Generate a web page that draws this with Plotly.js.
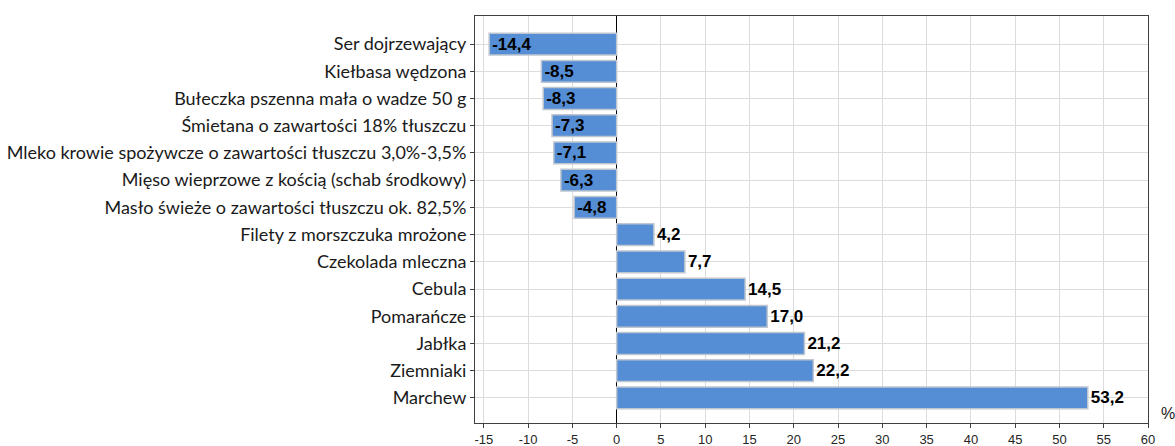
<!DOCTYPE html>
<html>
<head>
<meta charset="utf-8">
<script src="https://cdn.plot.ly/plotly-3.0.1.min.js"></script>
<style>html,body{margin:0;padding:0;background:#fff;}#chart{width:1175px;height:446px;}</style>
</head>
<body>
<div id="chart"></div>
<script>
const categories = [
  "Ser dojrzewający",
  "Kiełbasa wędzona",
  "Bułeczka pszenna mała o wadze 50 g",
  "Śmietana o zawartości 18% tłuszczu",
  "Mleko krowie spożywcze o zawartości tłuszczu 3,0%-3,5%",
  "Mięso wieprzowe z kością (schab środkowy)",
  "Masło świeże o zawartości tłuszczu ok. 82,5%",
  "Filety z morszczuka mrożone",
  "Czekolada mleczna",
  "Cebula",
  "Pomarańcze",
  "Jabłka",
  "Ziemniaki",
  "Marchew"
];
const values = [-14.4, -8.5, -8.3, -7.3, -7.1, -6.3, -4.8, 4.2, 7.7, 14.5, 17.0, 21.2, 22.2, 53.2];
const xTicks = [-15, -10, -5, 0, 5, 10, 15, 20, 25, 30, 35, 40, 45, 50, 55, 60];

const valFont = {family: 'Liberation Sans, Arial, sans-serif', size: 17, color: '#000'};
const trace = {
  type: 'bar',
  orientation: 'h',
  y: categories,
  x: values,
  width: 0.8,
  marker: {color: '#558ED5', line: {color: '#BFC6D0', width: 1.5}},
  texttemplate: '<b>%{x:.1f}</b>',
  textposition: values.map(v => v < 0 ? 'inside' : 'outside'),
  insidetextanchor: 'end',
  constraintext: 'none',
  cliponaxis: false,
  textfont: valFont,
  insidetextfont: valFont,
  outsidetextfont: valFont,
  hoverinfo: 'skip'
};

const layout = {
  width: 1175, height: 446,
  margin: {l: 475, r: 27, t: 16, b: 23, pad: 0},
  paper_bgcolor: '#fff', plot_bgcolor: '#fff',
  separators: ', ',
  showlegend: false,
  xaxis: {
    range: [-16, 60],
    tickvals: xTicks,
    ticktext: xTicks.map(String),
    showgrid: true, gridcolor: '#DCDCDC', gridwidth: 1,
    zeroline: true, zerolinecolor: '#000', zerolinewidth: 1,
    showline: true, linecolor: '#404040', linewidth: 1, mirror: true,
    ticks: 'outside', ticklen: 4, tickcolor: '#404040',
    tickfont: {family: 'Liberation Sans Narrow, Liberation Sans, Arial, sans-serif', size: 13, color: '#262626'}
  },
  yaxis: {
    type: 'category',
    range: [13.92, -1.03],
    showgrid: true, gridcolor: '#DCDCDC', gridwidth: 1,
    showline: true, linecolor: '#404040', linewidth: 1, mirror: true,
    ticks: 'outside', ticklen: 4, tickcolor: '#404040',
    tickfont: {family: 'Lato, sans-serif', size: 18, color: '#1a1a1a'}
  },
  annotations: [{
    text: '%', xref: 'paper', yref: 'paper', x: 1.018, y: 0,
    xanchor: 'left', yanchor: 'bottom', showarrow: false, borderpad: 0,
    font: {family: 'Liberation Sans, Arial, sans-serif', size: 16, color: '#1a1a1a'}
  }]
};

Plotly.newPlot('chart', [trace], layout, {displayModeBar: false, staticPlot: true});
</script>
</body>
</html>
